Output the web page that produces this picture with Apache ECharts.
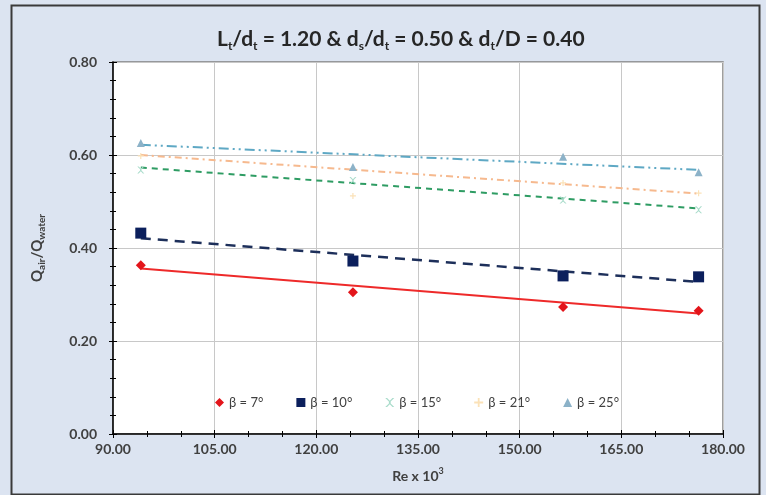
<!DOCTYPE html>
<html>
<head>
<meta charset="utf-8">
<script src="https://cdn.jsdelivr.net/npm/echarts@6/dist/echarts.min.js"></script>
<style>html,body{margin:0;padding:0;background:#fff}#c{width:766px;height:495px}</style>
</head>
<body>
<div id="c"></div>
<script>
// Re x 10^3 values of the measurements
const reX = [94.1, 125.4, 156.4, 176.4];
// Qair/Qwater per beta
const beta7  = [0.363, 0.305, 0.273, 0.265];
const beta10 = [0.432, 0.372, 0.340, 0.338];
const beta15 = [0.568, 0.545, 0.503, 0.482];
const beta21 = [0.598, 0.512, 0.540, 0.518];
const beta25 = [0.626, 0.574, 0.596, 0.563];
// linear trendline values at first and last Re
const trendX = [94.1, 176.4];
const trend7  = [0.356, 0.259];
const trend10 = [0.421, 0.327];
const trend15 = [0.573, 0.485];
const trend21 = [0.600, 0.517];
const trend25 = [0.622, 0.568];
const seriesNames = ['β = 7°', 'β = 10°', 'β = 15°', 'β = 21°', 'β = 25°'];
const xTicks = [90, 105, 120, 135, 150, 165, 180];
const yTicks = [0, 0.2, 0.4, 0.6, 0.8];

const FONT = 'Lato';
const pts = v => reX.map((x, i) => [x, v[i]]);
const tr = v => trendX.map((x, i) => [x, v[i]]);
const xPath = 'path://M0,0 L2,0 L5,3 L8,0 L10,0 L6,4 L6,6 L10,10 L8,10 L5,7 L2,10 L0,10 L4,6 L4,4 Z';

const markerDefs = [
  {symbol: 'diamond', size: 10, color: '#e3151b'},
  {symbol: 'rect', size: 11, color: '#0b1f5c'},
  {symbol: xPath, size: 7, color: '#a9dccb'},
  {symbol: 'path://M4,0 L6,0 L6,4 L10,4 L10,6 L6,6 L6,10 L4,10 L4,6 L0,6 L0,4 L4,4 Z', size: 6, color: '#fbe2b8'},
  {symbol: 'triangle', size: 8, color: '#8cb2c8'}
];
const values = [beta7, beta10, beta15, beta21, beta25];
const trends = [
  {d: trend7,  color: '#ee2a2a', type: 'solid', width: 2},
  {d: trend10, color: '#1d2f5a', type: [10, 7], width: 2.5},
  {d: trend15, color: '#2e9c63', type: [6, 5], width: 2},
  {d: trend21, color: '#f6b98e', type: [7, 4, 2, 4], width: 2},
  {d: trend25, color: '#5ea8c4', type: [10, 4, 2, 4, 2, 4], width: 2}
];

const series = [];
trends.forEach((t, i) => {
  series.push({
    type: 'line', data: tr(t.d), symbol: 'none', silent: true,
    lineStyle: {color: t.color, width: t.width, type: t.type},
    z: 2
  });
});
values.forEach((v, i) => {
  const m = markerDefs[i];
  series.push({
    name: seriesNames[i], type: 'scatter', data: pts(v),
    symbol: m.symbol, symbolSize: m.size,
    itemStyle: {color: m.color, opacity: 1}, z: 3
  });
});

const chart = echarts.init(document.getElementById('c'), null, {renderer: 'canvas'});
chart.setOption({
  animation: false,
  backgroundColor: '#dce4f1',
  textStyle: {fontFamily: FONT},
  title: {
    left: 212, top: 21,
    text: '{b|L}{s|t}{b|/d}{s|t}{b| = 1.20 & d}{s|s}{b|/d}{s|t}{b| = 0.50 & d}{s|t}{b|/D = 0.40}',
    textStyle: {
      rich: {
        b: {fontFamily: FONT, fontWeight: 'bold', fontSize: 21, color: '#262626', lineHeight: 26},
        s: {fontFamily: FONT, fontWeight: 'bold', fontSize: 12, color: '#262626', lineHeight: 12, verticalAlign: 'bottom', padding: [12, 0, 0, 0]}
      }
    }
  },
  graphic: [{
    type: 'rect', left: 9, top: 3, shape: {width: 748, height: 489},
    style: {fill: 'none', stroke: '#3a3a3a', lineWidth: 2}, silent: true, z: -1
  }],
  legend: {
    data: seriesNames.map((n, i) => ({name: n, icon: markerDefs[i].symbol})),
    left: 210, top: 391, itemWidth: 9, itemHeight: 9, itemGap: 33,
    textStyle: {fontFamily: FONT, fontSize: 13, color: '#404040'}
  },
  grid: {
    left: 113, right: 43, top: 62, bottom: 61,
    show: true, backgroundColor: '#ffffff', borderColor: '#7f7f7f', borderWidth: 1.5
  },
  xAxis: [{
    type: 'value', min: 90, max: 180, interval: 15,
    name: '{b|Re x 10}{p|3}', nameLocation: 'middle', nameGap: 33,
    nameTextStyle: {rich: {
      b: {fontFamily: FONT, fontWeight: 'bold', fontSize: 14, color: '#404040', lineHeight: 18},
      p: {fontFamily: FONT, fontWeight: 'bold', fontSize: 9, color: '#404040', lineHeight: 9, verticalAlign: 'top', padding: [0, 0, 9, 0]}
    }},
    axisLine: {show: true, lineStyle: {color: '#000', width: 1.5}},
    axisTick: {show: true, length: 4, lineStyle: {color: '#000'}},
    minorTick: {show: true, splitNumber: 3, length: 3, lineStyle: {color: '#000'}},
    axisLabel: {fontFamily: FONT, fontWeight: 'bold', fontSize: 14, color: '#404040', margin: 8,
      formatter: v => v.toFixed(2)},
    splitLine: {show: true, lineStyle: {color: '#c8c8c8', width: 1}}
  }, {
    type: 'value', min: 90, max: 180, interval: 15, position: 'bottom',
    axisLine: {show: false}, axisLabel: {show: false}, splitLine: {show: false},
    axisTick: {show: true, inside: true, length: 4, lineStyle: {color: '#000'}},
    minorTick: {show: true, splitNumber: 3, length: 3, lineStyle: {color: '#000'}}
  }],
  yAxis: [{
    type: 'value', min: 0, max: 0.8, interval: 0.2,
    name: '{b|Q}{s|air}{b|/Q}{s|water}', nameLocation: 'middle', nameGap: 66, nameRotate: 90,
    nameTextStyle: {rich: {
      b: {fontFamily: FONT, fontWeight: 'bold', fontSize: 15, color: '#404040', lineHeight: 20},
      s: {fontFamily: FONT, fontWeight: 'bold', fontSize: 10, color: '#404040', lineHeight: 10, verticalAlign: 'bottom', padding: [9, 0, 0, 0]}
    }},
    axisLine: {show: true, lineStyle: {color: '#000', width: 1.5}},
    axisTick: {show: true, length: 4, lineStyle: {color: '#000'}},
    minorTick: {show: true, splitNumber: 5, length: 3, lineStyle: {color: '#000'}},
    axisLabel: {fontFamily: FONT, fontWeight: 'bold', fontSize: 14, color: '#404040', margin: 16,
      formatter: v => v.toFixed(2)},
    splitLine: {show: true, lineStyle: {color: '#c8c8c8', width: 1}}
  }, {
    type: 'value', min: 0, max: 0.8, interval: 0.2, position: 'left',
    axisLine: {show: false}, axisLabel: {show: false}, splitLine: {show: false},
    axisTick: {show: true, inside: true, length: 4, lineStyle: {color: '#000'}},
    minorTick: {show: true, splitNumber: 5, length: 3, lineStyle: {color: '#000'}}
  }],
  series: series
});
</script>
</body>
</html>
